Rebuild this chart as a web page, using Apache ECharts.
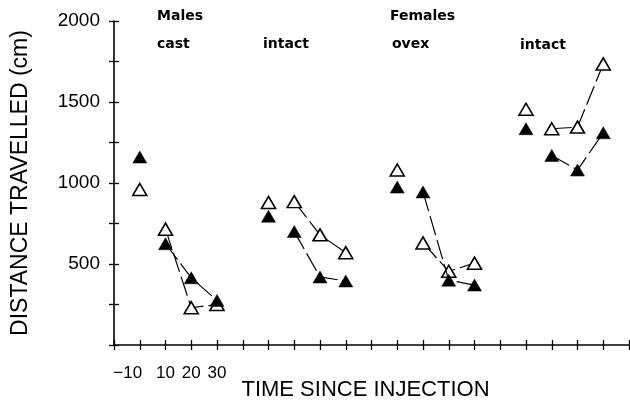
<!DOCTYPE html>
<html>
<head>
<meta charset="utf-8">
<script src="https://cdn.jsdelivr.net/npm/echarts@6/dist/echarts.min.js"></script>
<style>
  html, body { margin: 0; padding: 0; background: #fff; }
  #chart { width: 630px; height: 410px; }
</style>
</head>
<body>
<div id="chart"></div>
<script>
// x positions (tick index) where each group's first time point sits
const groupStart = [1, 6, 11, 16]
const timeLabels = ['\u221210', '10', '20', '30']

// open triangles
const openMalesCast = [960, 715, 230, 250]
const openMalesIntact = [880, 885, 680, 570]
const openFemalesOvex = [1080, 630, 455, 505]
const openFemalesIntact = [1455, 1335, 1345, 1735]

// filled triangles
const filledMalesCast = [1160, 625, 415, 275]
const filledMalesIntact = [795, 700, 420, 395]
const filledFemalesOvex = [975, 945, 400, 370]
const filledFemalesIntact = [1335, 1170, 1080, 1310]

const openGroups = [openMalesCast, openMalesIntact, openFemalesOvex, openFemalesIntact]
const filledGroups = [filledMalesCast, filledMalesIntact, filledFemalesOvex, filledFemalesIntact]

const font = 'Liberation Sans, Arial, sans-serif'
const labelFont = 'DejaVu Sans, sans-serif'

const openSym = { color: '#fff', borderColor: '#000', borderWidth: 1.6, opacity: 1 }
const filledSym = { color: '#000', borderColor: '#000', borderWidth: 0.5, opacity: 1 }

const makeSeries = (groups, itemStyle, z) => {
  const out = []
  groups.forEach((vals, g) => {
    const pts = vals.map((v, i) => [groupStart[g] + i, v])
    // pre-injection point, not joined
    out.push({
      type: 'scatter',
      data: [pts[0]],
      symbol: 'triangle',
      symbolSize: [14, 12],
      itemStyle,
      z
    })
    // post-injection points joined by a line
    out.push({
      type: 'line',
      data: pts.slice(1),
      symbol: 'triangle',
      symbolSize: [14, 12],
      showSymbol: true,
      itemStyle,
      lineStyle: { color: '#000', width: 1.2, type: [20, 5] },
      z
    })
  })
  return out
}

const chart = echarts.init(document.getElementById('chart'))

const axisLine = { show: true, lineStyle: { color: '#000', width: 1.6 } }
const tickStyle = { color: '#000', width: 1.3 }

chart.setOption({
  animation: false,
  grid: { left: 114, right: 1, top: 21, bottom: 65, outerBoundsMode: 'none', containLabel: false },
  xAxis: [
    {
      type: 'value',
      min: 0,
      max: 20,
      interval: 1,
      position: 'bottom',
      axisLine,
      axisTick: { show: true, length: 5, lineStyle: tickStyle },
      splitLine: { show: false },
      axisLabel: {
        margin: 20,
        color: '#000',
        fontFamily: font,
        fontSize: 17,
        showMaxLabel: true,
        formatter: (v) => {
          const i = v - groupStart[0]
          if (i === 0) return '{neg|' + timeLabels[0] + '}'
          if (i > 0 && i < timeLabels.length) return timeLabels[i]
          return ''
        },
        rich: {
          neg: { padding: [0, 24, 0, 0], fontFamily: font, fontSize: 17, color: '#000' }
        }
      },
      name: 'TIME SINCE INJECTION',
      nameLocation: 'middle',
      nameGap: 34,
      nameMoveOverlap: false,
      nameTextStyle: { fontFamily: font, fontSize: 22, color: '#000', padding: [0, 12, 0, 0] }
    },
    {
      type: 'value',
      min: 0,
      max: 20,
      interval: 1,
      position: 'bottom',
      axisLine: { show: false },
      axisTick: { show: true, inside: true, length: 5, lineStyle: tickStyle },
      axisLabel: { show: false },
      splitLine: { show: false }
    }
  ],
  yAxis: [
    {
      type: 'value',
      min: 0,
      max: 2000,
      interval: 250,
      position: 'left',
      axisLine,
      axisTick: { show: true, length: 5, lineStyle: tickStyle },
      splitLine: { show: false },
      axisLabel: {
        margin: 14,
        color: '#000',
        fontFamily: font,
        fontSize: 19,
        formatter: (v) => (v > 0 && v % 500 === 0 ? String(v) : '')
      },
      name: 'DISTANCE TRAVELLED (cm)',
      nameLocation: 'middle',
      nameGap: 82,
      nameMoveOverlap: false,
      nameTextStyle: { fontFamily: font, fontSize: 23, color: '#000' }
    },
    {
      type: 'value',
      min: 0,
      max: 2000,
      interval: 250,
      position: 'left',
      axisLine: { show: false },
      axisTick: { show: true, inside: true, length: 5, lineStyle: tickStyle },
      axisLabel: { show: false },
      splitLine: { show: false }
    }
  ],
  graphic: [
    { type: 'text', left: 157, top: 9, style: { text: 'Males', font: 'bold 14px ' + labelFont, fill: '#000' } },
    { type: 'text', left: 157, top: 37, style: { text: 'cast', font: 'bold 14px ' + labelFont, fill: '#000' } },
    { type: 'text', left: 263, top: 37, style: { text: 'intact', font: 'bold 14px ' + labelFont, fill: '#000' } },
    { type: 'text', left: 390, top: 9, style: { text: 'Females', font: 'bold 14px ' + labelFont, fill: '#000' } },
    { type: 'text', left: 392, top: 37, style: { text: 'ovex', font: 'bold 14px ' + labelFont, fill: '#000' } },
    { type: 'text', left: 520, top: 38, style: { text: 'intact', font: 'bold 14px ' + labelFont, fill: '#000' } }
  ],
  series: [
    ...makeSeries(openGroups, openSym, 2),
    ...makeSeries(filledGroups, filledSym, 3)
  ]
})
</script>
</body>
</html>
